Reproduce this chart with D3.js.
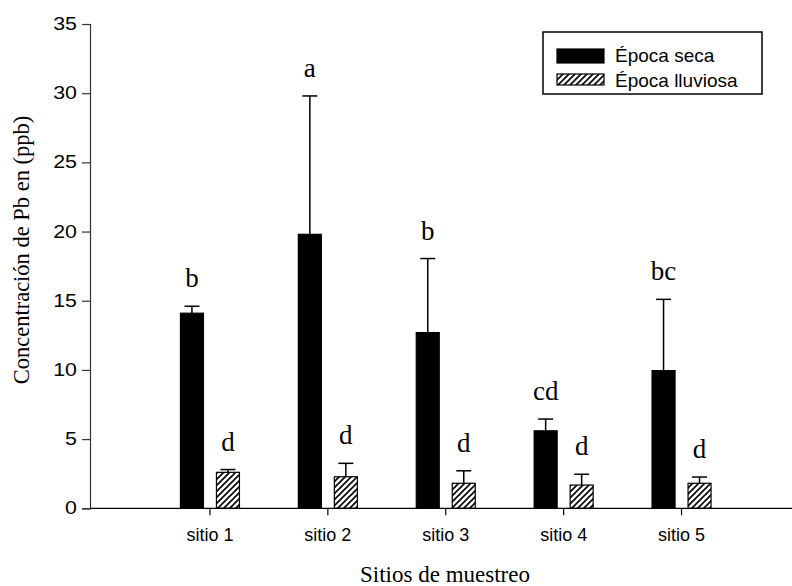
<!DOCTYPE html>
<html>
<head>
<meta charset="utf-8">
<script src="https://cdn.jsdelivr.net/npm/d3@7"></script>
<style>
  html, body { margin: 0; padding: 0; background: #fff; }
  svg { display: block; }
</style>
</head>
<body>
<svg id="chart" width="792" height="586"></svg>
<script>
// Pb concentration per sampling site, dry vs. rainy season (mean + SD)
const sites = ["sitio 1", "sitio 2", "sitio 3", "sitio 4", "sitio 5"];
const seriesNames = ["Época seca", "Época lluviosa"];
const secaMean = [14.1, 19.8, 12.7, 5.6, 9.95];
const secaSD = [0.5, 10.0, 5.35, 0.85, 5.15];
const lluviosaMean = [2.6, 2.28, 1.81, 1.68, 1.81];
const lluviosaSD = [0.2, 0.97, 0.9, 0.78, 0.45];
const secaLetters = ["b", "a", "b", "cd", "bc"];
const lluviosaLetters = ["d", "d", "d", "d", "d"];
const yTicks = [0, 5, 10, 15, 20, 25, 30, 35];

const svg = d3.select("#chart");

const plot = { left: 90, top: 24, bottom: 508.3 };

const y = d3.scaleLinear().domain([0, 35]).range([plot.bottom, plot.top]);

// sites are evenly spaced; the first site sits one step to the right of the y axis
const x = d3.scaleBand().domain(sites).range([151, 740.5]).paddingInner(0).paddingOuter(0);
const inner = d3.scaleBand().domain(seriesNames)
  .range([x.bandwidth() / 2 - 29.5, x.bandwidth() / 2 + 29.5])
  .paddingInner(13 / 36).paddingOuter(0);

// hatch pattern for the rainy season
const defs = svg.append("defs");
const pat = defs.append("pattern")
  .attr("id", "hatch")
  .attr("patternUnits", "userSpaceOnUse")
  .attr("width", 6).attr("height", 6);
pat.append("rect").attr("width", 6).attr("height", 6).attr("fill", "#fff");
pat.append("path")
  .attr("d", "M0,6 L6,0 M-1.5,1.5 L1.5,-1.5 M4.5,7.5 L7.5,4.5")
  .attr("stroke", "#000").attr("stroke-width", 1.6);

const rows = sites.map((s, i) => [
  { site: s, series: seriesNames[0], mean: secaMean[i], sd: secaSD[i], letter: secaLetters[i] },
  { site: s, series: seriesNames[1], mean: lluviosaMean[i], sd: lluviosaSD[i], letter: lluviosaLetters[i] }
]).flat();

const cx = d => x(d.site) + inner(d.series) + inner.bandwidth() / 2;

// error bars (upper only)
const err = svg.append("g").attr("stroke", "#000").attr("stroke-width", 1.5);
err.selectAll("line.v").data(rows).join("line")
  .attr("x1", cx).attr("x2", cx)
  .attr("y1", d => y(d.mean)).attr("y2", d => y(d.mean + d.sd));
err.selectAll("line.c").data(rows).join("line")
  .attr("x1", d => cx(d) - 7.5).attr("x2", d => cx(d) + 7.5)
  .attr("y1", d => y(d.mean + d.sd)).attr("y2", d => y(d.mean + d.sd));

// bars
svg.append("g").selectAll("rect").data(rows).join("rect")
  .attr("x", d => x(d.site) + inner(d.series))
  .attr("width", inner.bandwidth())
  .attr("y", d => y(d.mean))
  .attr("height", d => y(0) - y(d.mean))
  .attr("fill", d => d.series === seriesNames[0] ? "#000" : "url(#hatch)")
  .attr("stroke", "#000")
  .attr("stroke-width", 1.2);

// significance letters
svg.append("g").selectAll("text").data(rows).join("text")
  .attr("x", cx)
  .attr("y", d => y(d.mean + d.sd) - 19)
  .attr("text-anchor", "middle")
  .attr("font-family", "'Liberation Serif', 'Times New Roman', serif")
  .attr("font-size", 27)
  .attr("fill", "#000")
  .text(d => d.letter);

// y axis
const yAxis = svg.append("g")
  .attr("transform", `translate(${plot.left},0)`)
  .call(d3.axisLeft(y).tickValues(yTicks).tickSize(8).tickPadding(5).tickFormat(d3.format("d")));
yAxis.select(".domain").attr("stroke", "#333").attr("stroke-width", 1.2);
yAxis.selectAll(".tick line").attr("stroke", "#333").attr("stroke-width", 1.2);
// tick numbers are set slightly wide
yAxis.selectAll(".tick text")
  .attr("x", 0)
  .attr("transform", "translate(-13,0) scale(1.22,1)")
  .attr("font-family", "'Liberation Sans', Arial, sans-serif")
  .attr("font-size", 17.5).attr("fill", "#000");

// x axis
const xAxis = svg.append("g")
  .attr("transform", `translate(0,${plot.bottom})`)
  .call(d3.axisBottom(x).tickSize(7).tickPadding(13).tickSizeOuter(0));
xAxis.select(".domain").remove();
xAxis.append("line").attr("x1", plot.left).attr("x2", 792)
  .attr("stroke", "#000").attr("stroke-width", 1.2);
xAxis.selectAll(".tick line").attr("stroke", "#000").attr("stroke-width", 1.2);
xAxis.selectAll(".tick text")
  .attr("font-family", "'Liberation Sans', Arial, sans-serif")
  .attr("font-size", 18).attr("fill", "#000");

// axis titles
svg.append("text")
  .attr("x", 445).attr("y", 582)
  .attr("text-anchor", "middle")
  .attr("font-family", "'Liberation Serif', 'Times New Roman', serif")
  .attr("font-size", 23)
  .text("Sitios de muestreo");

svg.append("text")
  .attr("transform", "translate(29,250) rotate(-90)")
  .attr("text-anchor", "middle")
  .attr("font-family", "'Liberation Serif', 'Times New Roman', serif")
  .attr("font-size", 22.5)
  .text("Concentración de Pb en (ppb)");

// legend
const lg = svg.append("g").attr("transform", "translate(543,32)");
lg.append("rect").attr("width", 219).attr("height", 62)
  .attr("fill", "#fff").attr("stroke", "#000").attr("stroke-width", 1.5);
const items = lg.selectAll("g.item").data(seriesNames).join("g")
  .attr("transform", (d, i) => `translate(14,${17 + i * 25})`);
items.append("rect").attr("width", 47).attr("height", (d, i) => i === 0 ? 14 : 11)
  .attr("fill", (d, i) => i === 0 ? "#000" : "url(#hatch)")
  .attr("stroke", "#000").attr("stroke-width", 1.2);
items.append("text")
  .attr("x", 58).attr("y", 13)
  .attr("font-family", "'Liberation Sans', Arial, sans-serif")
  .attr("font-size", 19)
  .text(d => d);
</script>
</body>
</html>
